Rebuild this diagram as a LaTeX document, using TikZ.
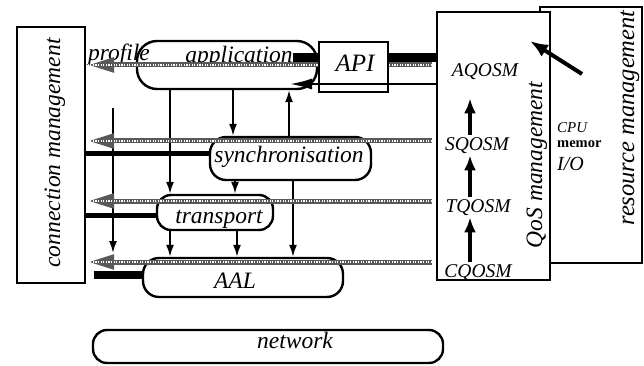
\documentclass[tikz,border=0pt]{standalone}
\usepackage{fontspec}
\setmainfont{Liberation Serif}[ItalicFont={Liberation Serif Italic}, BoldFont={Liberation Serif Bold}]
\usetikzlibrary{arrows.meta}
\begin{document}
\begin{tikzpicture}[x=1pt,y=-1pt,
  box/.style={draw, line width=2pt, fill=white, inner sep=0pt},
  rbox/.style={draw, line width=2.4pt, fill=white, inner sep=0pt, rounded corners=#1},
  rbox/.default=15pt,
  lbl/.style={font=\itshape\fontsize{23.5}{24}\selectfont, inner sep=0pt, anchor=base},
  qlbl/.style={font=\itshape\fontsize{19.5}{20}\selectfont, inner sep=0pt, anchor=base},
  arr/.style={line width=1.8pt, -{Latex[length=12pt,width=8pt]}},
  qarr/.style={line width=3.5pt, -{Latex[length=15pt,width=12pt]}},
  chk/.style={draw=black!65, line width=5pt, -{Triangle[length=26pt,width=14pt]},
    shorten <=4pt, shorten >=2pt,
    postaction={draw=white, line width=1.3pt, dash pattern=on 1.3pt off 1.3pt, -}}
]
\useasboundingbox (0,0) rectangle (644,366);

% management boxes
\node[box, minimum width=102pt, minimum height=256pt] (res) at (591,135) {};
\node[box, minimum width=113pt, minimum height=268pt] (qos) at (493.5,146) {};
\node[box, minimum width=68pt, minimum height=256pt] (conn) at (51,155) {};

% layer boxes
\node[rbox=20pt, minimum width=180pt, minimum height=48pt] (app) at (227,65) {};
\node[rbox=16pt, minimum width=161pt, minimum height=43pt] (sync) at (290.5,158.5) {};
\node[rbox=14pt, minimum width=116pt, minimum height=35pt] (trans) at (215,212.5) {};
\node[rbox=16pt, minimum width=200pt, minimum height=39pt] (aal) at (243,277.5) {};
\node[rbox=14pt, minimum width=350pt, minimum height=33pt] (net) at (268,346.5) {};

% labels
\node[lbl, rotate=90] (connlbl) at (60,153) {connection management};
\node[lbl, rotate=90] (qoslbl) at (542,165) {QoS management};
\node[lbl, rotate=90, font=\itshape\fontsize{24.5}{25}\selectfont] (reslbl) at (634,118) {resource management};
\node[lbl] (proflbl) at (119,61) {profile};
\node[lbl] (applbl) at (239,63) {application};
\node[lbl] (synclbl) at (289,163) {synchronisation};
\node[lbl] (translbl) at (219,223) {transport};
\node[lbl] (aallbl) at (235,288) {AAL};
\node[lbl] (netlbl) at (295,348) {network};
\node[qlbl] (aq) at (485,77) {AQOSM};
\node[qlbl] (sq) at (477,150) {SQOSM};
\node[qlbl] (tq) at (478,212) {TQOSM};
\node[qlbl] (cq) at (478,277) {CQOSM};
\node[font=\itshape\fontsize{15}{16}\selectfont, inner sep=0pt, anchor=base west] (cpu) at (557,133) {CPU};
\node[font=\bfseries\fontsize{14.5}{15}\selectfont, inner sep=0pt, anchor=base west] (mem) at (557,148) {memor};
\node[font=\itshape\fontsize{20}{21}\selectfont, inner sep=0pt, anchor=base west] (io) at (557,170) {I/O};

% thick control lines
\draw[line width=9pt] (applbl.east |- 0,58) -- (qos.west |- 0,58);
\draw[line width=5pt] (conn.east |- 0,154) -- (sync.west |- 0,154);
\draw[line width=5pt] (conn.east |- 0,215) -- (trans.west |- 0,215);
\coordinate (aalbar) at (94,275);
\draw[line width=8pt] (aalbar) -- (aal.west |- 0,275);

% vertical arrows
\draw[arr] (app.south -| 233,0) -- (sync.north -| 233,0);
\draw[arr] (sync.north -| 289,0) -- (app.south -| 289,0);
\draw[arr] (app.south -| 170,0) -- (trans.north -| 170,0);
\coordinate (fa) at (113,108);
\coordinate (fb) at (113,253);
\draw[arr] (fa) -- (fb);
\draw[arr] (sync.south -| 235,0) -- (trans.north -| 235,0);
\draw[arr] (sync.south -| 293,0) -- (aal.north -| 293,0);
\draw[arr] (trans.south -| 170,0) -- (aal.north -| 170,0);
\draw[arr] (trans.south -| 237,0) -- (aal.north -| 237,0);

% checkered QoS lines
\draw[chk] (qos.west |- 0,65) -- (conn.east |- 0,65);
\draw[chk] (qos.west |- 0,141) -- (conn.east |- 0,141);
\draw[chk] (qos.west |- 0,201) -- (conn.east |- 0,201);
\draw[chk] (qos.west |- 0,262) -- (conn.east |- 0,262);

% API box
\node[box, minimum width=69pt, minimum height=50pt] (api) at (353.5,67) {};
\node[lbl, font=\itshape\fontsize{25}{26}\selectfont] (apilbl) at (355,72) {API};
\coordinate (apitip) at (290,84);
\draw[line width=2pt, -{Latex[length=22pt,width=11pt]}] (qos.west |- 0,84) -- (apitip);

% QoS internal arrows
\draw[qarr, shorten <=2pt, shorten >=18pt] (sq.north -| 470,0) -- (aq.south -| 470,0);
\draw[qarr, shorten <=2pt, shorten >=2pt] (tq.north -| 470,0) -- (sq.south -| 470,0);
\draw[qarr, shorten <=2pt, shorten >=2pt] (cq.north -| 470,0) -- (tq.south -| 470,0);

% resource arrow
\coordinate (ra) at (582,74);
\coordinate (rb) at (530,41);
\draw[line width=4pt, -{Latex[length=18pt,width=14pt]}] (ra) -- (rb);
\end{tikzpicture}
\end{document}
